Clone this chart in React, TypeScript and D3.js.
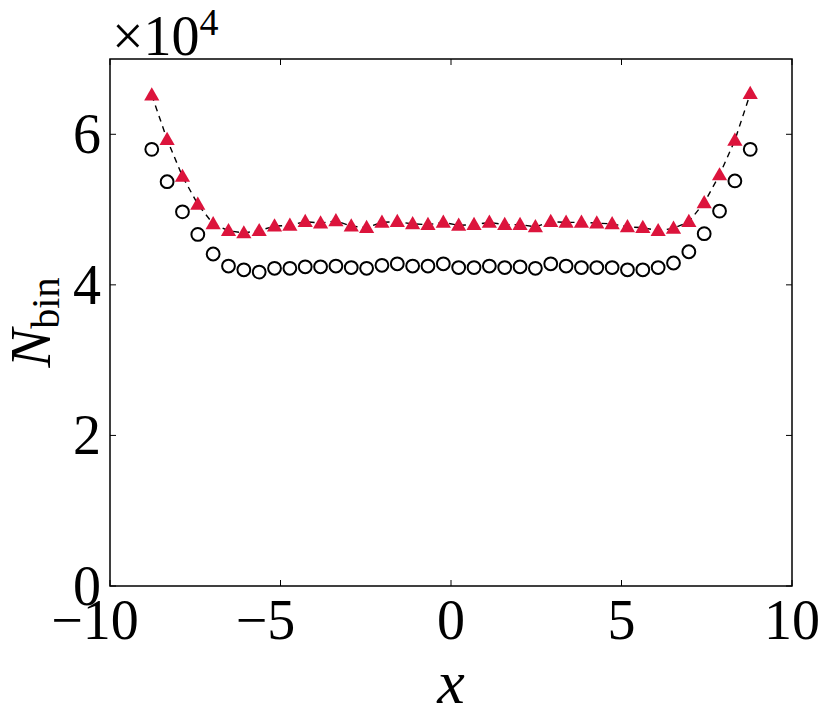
import { useEffect, useRef } from 'react';
import * as d3 from 'd3';

// bin centres: 40 bins of width 0.45 between -9 and 9
const BIN_START = -8.775;
const BIN_STEP = 0.45;

// counts in units of 1e4
const circleValues = [
  5.80, 5.37, 4.97, 4.67, 4.41, 4.25, 4.20, 4.17, 4.22, 4.22,
  4.24, 4.24, 4.25, 4.23, 4.22, 4.26, 4.28, 4.25, 4.25, 4.28,
  4.23, 4.23, 4.25, 4.23, 4.24, 4.22, 4.28, 4.25, 4.23, 4.23,
  4.23, 4.20, 4.20, 4.23, 4.29, 4.44, 4.68, 4.98, 5.38, 5.80,
];

const triangleValues = [
  6.52, 5.93, 5.44, 5.07, 4.81, 4.72, 4.69, 4.72, 4.78, 4.79,
  4.84, 4.82, 4.85, 4.78, 4.76, 4.83, 4.84, 4.81, 4.80, 4.83,
  4.79, 4.80, 4.83, 4.80, 4.80, 4.77, 4.84, 4.83, 4.83, 4.82,
  4.81, 4.77, 4.76, 4.72, 4.75, 4.84, 5.09, 5.46, 5.92, 6.54,
];

const xTicks = [-10, -5, 0, 5, 10];
const yTicks = [0, 2, 4, 6];

const W = 831;
const H = 726;
const M = { left: 110, right: 792, top: 59, bottom: 586 };
const FONT = "'Liberation Serif', 'DejaVu Serif', 'Times New Roman', serif";

export default function App() {
  const svgRef = useRef<SVGSVGElement>(null);

  useEffect(() => {
    if (!svgRef.current) return;
    const svg = d3.select(svgRef.current);
    svg.selectAll('*').remove();

    const x = d3.scaleLinear().domain([-10, 10]).range([M.left, M.right]);
    const y = d3.scaleLinear().domain([0, 7]).range([M.bottom, M.top]);
    const binX = (i: number) => BIN_START + BIN_STEP * i;

    const fmt = (v: number) => (v < 0 ? `\u2212${Math.abs(v)}` : `${v}`);

    // dashed line through triangles
    const line = d3.line<number>().x((_, i) => x(binX(i))).y(d => y(d));
    svg.append('path')
      .attr('d', line(triangleValues))
      .attr('fill', 'none')
      .attr('stroke', '#000')
      .attr('stroke-width', 1.4)
      .attr('stroke-dasharray', '6,5');

    svg.append('g').selectAll('circle').data(circleValues).join('circle')
      .attr('cx', (_, i) => x(binX(i)))
      .attr('cy', d => y(d))
      .attr('r', 6.4)
      .attr('fill', 'none')
      .attr('stroke', '#000')
      .attr('stroke-width', 2);

    const tri = d3.symbol().type(d3.symbolTriangle).size(100);
    svg.append('g').selectAll('path').data(triangleValues).join('path')
      .attr('d', tri()!)
      .attr('transform', (d, i) => `translate(${x(binX(i))},${y(d) + 1})`)
      .attr('fill', '#dc143c');

    // frame
    svg.append('rect')
      .attr('x', M.left).attr('y', M.top)
      .attr('width', M.right - M.left).attr('height', M.bottom - M.top)
      .attr('fill', 'none').attr('stroke', '#000').attr('stroke-width', 1.5);

    const tickLen = 6;
    const ticks = svg.append('g').attr('stroke', '#000').attr('stroke-width', 1);
    xTicks.forEach(t => {
      ticks.append('line').attr('x1', x(t)).attr('x2', x(t)).attr('y1', M.bottom).attr('y2', M.bottom - tickLen);
      ticks.append('line').attr('x1', x(t)).attr('x2', x(t)).attr('y1', M.top).attr('y2', M.top + tickLen);
    });
    yTicks.forEach(t => {
      ticks.append('line').attr('x1', M.left).attr('x2', M.left + tickLen).attr('y1', y(t)).attr('y2', y(t));
      ticks.append('line').attr('x1', M.right).attr('x2', M.right - tickLen).attr('y1', y(t)).attr('y2', y(t));
    });

    const labels = svg.append('g').style('font-family', FONT).style('font-size', '56px').attr('fill', '#000');
    xTicks.forEach(t => {
      labels.append('text')
        .attr('x', x(t) - (t < 0 ? 15 : 0)).attr('y', M.bottom + 53)
        .attr('text-anchor', 'middle')
        .text(fmt(t));
    });
    yTicks.forEach(t => {
      labels.append('text')
        .attr('x', M.left - 9).attr('y', y(t) + 19)
        .attr('text-anchor', 'end')
        .text(fmt(t));
    });

    // offset text
    const off = svg.append('text').style('font-family', FONT).style('font-size', '56px')
      .attr('x', 112).attr('y', 55);
    off.append('tspan').text('\u00d710');
    off.append('tspan').style('font-size', '38px').attr('dy', -20).text('4');

    // x label
    svg.append('text')
      .style('font-family', FONT).style('font-size', '62px').style('font-style', 'italic')
      .attr('x', (M.left + M.right) / 2).attr('y', 703)
      .attr('text-anchor', 'middle')
      .text('x');

    // y label
    const yl = svg.append('text')
      .style('font-family', FONT).style('font-size', '58px')
      .attr('transform', `translate(50,${(M.top + M.bottom) / 2}) rotate(-90)`)
      .attr('text-anchor', 'middle');
    yl.append('tspan').style('font-style', 'italic').text('N');
    yl.append('tspan').style('font-size', '40px').attr('dy', 9).text('bin');
  }, []);

  return (
    <div style={{ position: 'absolute', left: 0, top: 0 }}>
      <svg ref={svgRef} width={W} height={H} style={{ display: 'block', background: '#fff' }} />
    </div>
  );
}
